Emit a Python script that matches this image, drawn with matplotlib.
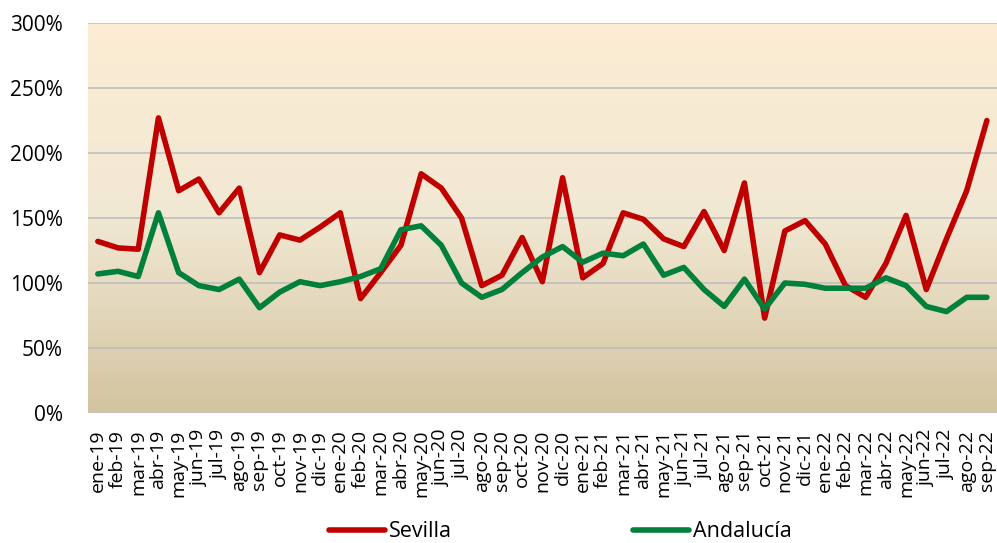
import numpy as np
import matplotlib.pyplot as plt
from matplotlib.colors import LinearSegmentedColormap
from matplotlib.ticker import FuncFormatter

plt.rcParams['font.family'] = ['Open Sans', 'DejaVu Sans']

meses = ["ene", "feb", "mar", "abr", "may", "jun", "jul", "ago", "sep", "oct", "nov", "dic"]
etiquetas = [m + "-" + a for a in ["19", "20", "21"] for m in meses] + \
            [m + "-22" for m in meses[:9]]

sevilla = [132, 127, 126, 227, 171, 180, 154, 173, 108, 137, 133, 143,
           154, 88, 108, 129, 184, 173, 150, 98, 106, 135, 101, 181,
           104, 115, 154, 149, 134, 128, 155, 125, 177, 73, 140, 148,
           130, 98, 89, 115, 152, 95, 134, 171, 225]
andalucia = [107, 109, 105, 154, 108, 98, 95, 103, 81, 93, 101, 98,
             101, 105, 111, 141, 144, 129, 100, 89, 95, 108, 120, 128,
             116, 123, 121, 130, 106, 112, 95, 82, 103, 80, 100, 99,
             96, 96, 96, 104, 98, 82, 78, 89, 89]

x = np.arange(len(etiquetas))

fig = plt.figure(figsize=(9.97, 5.43), dpi=100)
ax = fig.add_axes([0.088, 0.2394, 0.912, 0.7182])

# fondo degradado
cmap = LinearSegmentedColormap.from_list("fondo", ["#d3c4a0", "#f1e8d3", "#fcedd4"])
grad = np.linspace(0, 1, 256).reshape(-1, 1)
ax.imshow(grad, cmap=cmap, aspect="auto", origin="lower",
          extent=[-0.5, len(x) - 0.5, 0, 300], zorder=0)

ax.plot(x, sevilla, color="#c00000", lw=4, label="Sevilla", zorder=3,
        solid_joinstyle="round", solid_capstyle="round")
ax.plot(x, andalucia, color="#00803a", lw=4, label="Andalucía", zorder=3,
        solid_joinstyle="round", solid_capstyle="round")

ax.set_xlim(-0.5, len(x) - 0.5)
ax.set_ylim(0, 300)
ax.set_yticks(range(0, 301, 50))
ax.yaxis.set_major_formatter(FuncFormatter(lambda v, p: "%d%%" % v))
ax.set_xticks(x)
ax.set_xticklabels(etiquetas, rotation=90, fontsize=14)
ax.tick_params(axis="y", labelsize=15, length=0, pad=18)
ax.tick_params(axis="x", length=0, pad=12)
ax.grid(axis="y", color="#bfbfbf", lw=1.2, zorder=1)
for s in ax.spines.values():
    s.set_visible(False)

ax.legend(loc="center", bbox_to_anchor=(0.52, -0.305), ncol=2, frameon=False,
          fontsize=15.5, handlelength=2.6, columnspacing=8.4, handletextpad=0.2)

plt.savefig("out.png")
